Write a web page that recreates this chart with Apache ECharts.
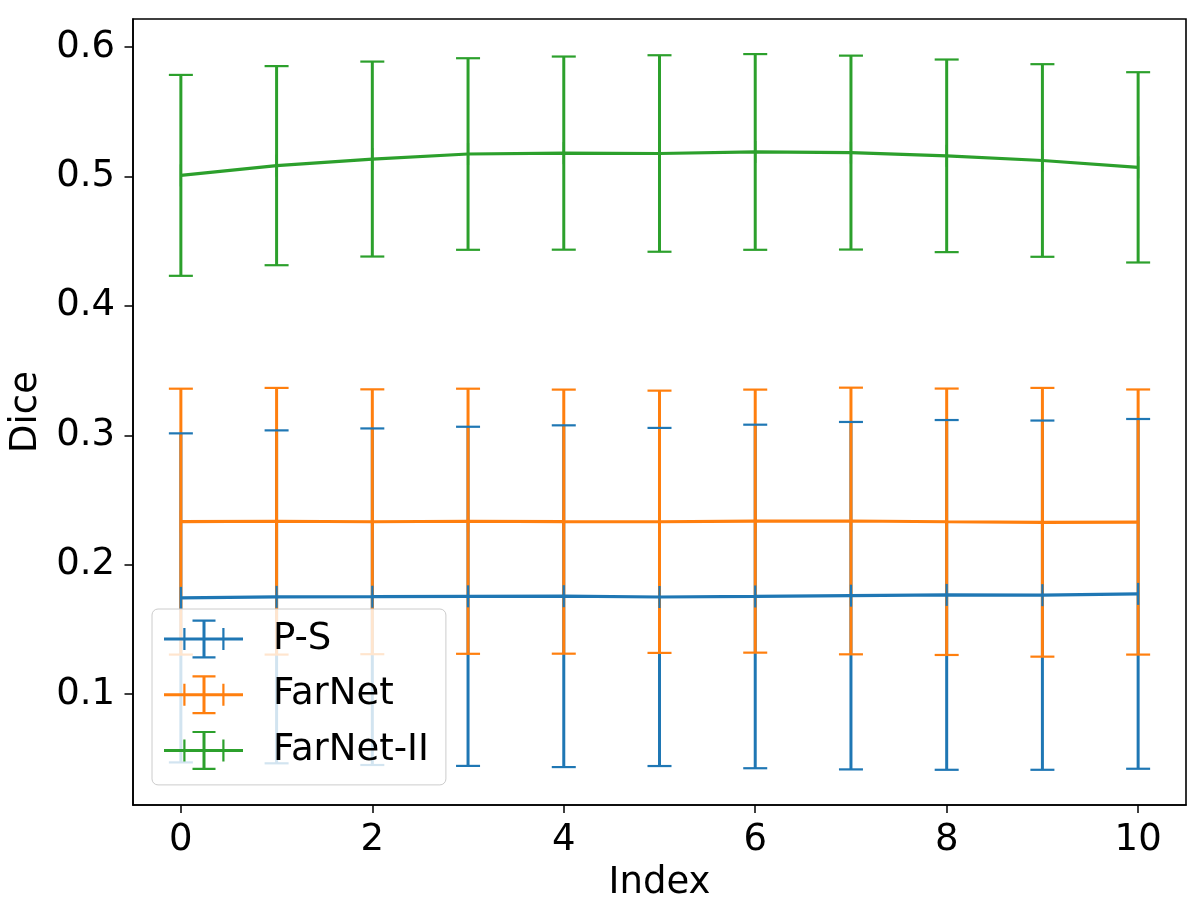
<!DOCTYPE html>
<html>
<head>
<meta charset="utf-8">
<script src="https://cdn.jsdelivr.net/npm/echarts@6/dist/echarts.min.js"></script>
<style>
html,body{margin:0;padding:0;background:#ffffff;}
#chart{width:1200px;height:907px;}
</style>
</head>
<body>
<div id="chart"></div>
<script>
// ---- data ----
const indices = [0, 1, 2, 3, 4, 5, 6, 7, 8, 9, 10];

const seriesNames = ['P-S', 'FarNet', 'FarNet-II'];

const psMean = [0.1744, 0.1752, 0.1753, 0.1756, 0.1757, 0.1751, 0.1755, 0.1761, 0.1767, 0.1765, 0.1775];
const psStd  = [0.1271, 0.1286, 0.1300, 0.1310, 0.1320, 0.1306, 0.1327, 0.1342, 0.1351, 0.1349, 0.1351];

const farMean = [0.2333, 0.2336, 0.2332, 0.2336, 0.2333, 0.2332, 0.2337, 0.2338, 0.2332, 0.2328, 0.2330];
const farStd  = [0.1027, 0.1030, 0.1023, 0.1024, 0.1020, 0.1013, 0.1016, 0.1030, 0.1029, 0.1038, 0.1024];

const far2Mean = [0.5008, 0.5083, 0.5134, 0.5173, 0.5180, 0.5177, 0.5189, 0.5184, 0.5159, 0.5123, 0.5070];
const far2Std  = [0.0776, 0.0769, 0.0753, 0.0740, 0.0746, 0.0759, 0.0756, 0.0749, 0.0744, 0.0744, 0.0735];

const xTicks = [0, 2, 4, 6, 8, 10];
const xTickLabels = ['0', '2', '4', '6', '8', '10'];
const yTicks = [0.1, 0.2, 0.3, 0.4, 0.5, 0.6];
const yTickLabels = ['0.1', '0.2', '0.3', '0.4', '0.5', '0.6'];

const xRange = [-0.5, 10.5];
const yRange = [0.0144, 0.6216];

// ---- styling ----
const colors = ['#1f77b4', '#ff7f0e', '#2ca02c'];
const FONT = 'DejaVu Sans';
const FS = 37;
const means = [psMean, farMean, far2Mean];
const stds = [psStd, farStd, far2Std];

function seriesData(k) {
  return indices.map((x, i) => [x, means[k][i], stds[k][i]]);
}

function barsRender(color) {
  return function (params, api) {
    const x = api.value(0), m = api.value(1), s = api.value(2);
    const t = api.coord([x, m + s]);
    const b = api.coord([x, m - s]);
    return {
      type: 'line',
      shape: { x1: t[0], y1: t[1], x2: b[0], y2: b[1] },
      style: { stroke: color, lineWidth: 3 }
    };
  };
}

function capsRender(color) {
  return function (params, api) {
    const x = api.value(0), m = api.value(1), s = api.value(2);
    const t = api.coord([x, m + s]);
    const b = api.coord([x, m - s]);
    const c = api.coord([x, m]);
    const hw = 12, hh = 11;
    return {
      type: 'group',
      children: [
        { type: 'line', shape: { x1: t[0] - hw, y1: t[1], x2: t[0] + hw, y2: t[1] }, style: { stroke: color, lineWidth: 2.2 } },
        { type: 'line', shape: { x1: b[0] - hw, y1: b[1], x2: b[0] + hw, y2: b[1] }, style: { stroke: color, lineWidth: 2.2 } },
        { type: 'line', shape: { x1: c[0], y1: c[1] - hh, x2: c[0], y2: c[1] + hh }, style: { stroke: color, lineWidth: 2.2 } }
      ]
    };
  };
}

// legend handle: line with x-caps and y-errorbar with caps (filled shapes)
const handleIcon = 'path://' +
  'M0 18 L79 18 L79 21 L0 21 Z ' +
  'M19.3 8.5 L21.5 8.5 L21.5 30.5 L19.3 30.5 Z ' +
  'M58.3 8.5 L60.5 8.5 L60.5 30.5 L58.3 30.5 Z ' +
  'M38.5 1 L41.5 1 L41.5 38 L38.5 38 Z ' +
  'M28.5 0 L51.5 0 L51.5 2.2 L28.5 2.2 Z ' +
  'M28.5 36.8 L51.5 36.8 L51.5 39 L28.5 39 Z';

const series = [];
// error bars first (lowest)
for (let k = 0; k < 3; k++) {
  series.push({
    type: 'custom', name: seriesNames[k] + ' bars',
    data: seriesData(k), encode: { x: 0, y: 1 },
    renderItem: barsRender(colors[k]),
    itemStyle: { color: colors[k] },
    z: 2, silent: true, clip: false
  });
}
// data lines and caps
for (let k = 0; k < 3; k++) {
  series.push({
    type: 'line', name: seriesNames[k],
    data: indices.map((x, i) => [x, means[k][i]]),
    showSymbol: false, symbol: 'none',
    lineStyle: { color: colors[k], width: 3.2 },
    itemStyle: { color: colors[k] },
    z: 3, silent: true
  });
  series.push({
    type: 'custom', name: seriesNames[k] + ' caps',
    data: seriesData(k), encode: { x: 0, y: 1 },
    renderItem: capsRender(colors[k]),
    itemStyle: { color: colors[k] },
    z: 3, silent: true, clip: false
  });
}

const chart = echarts.init(document.getElementById('chart'), null, { renderer: 'canvas' });
chart.setOption({
  animation: false,
  backgroundColor: '#ffffff',
  textStyle: { fontFamily: FONT },
  grid: {
    left: 132, right: 14, top: 19, bottom: 101.5,
    show: true, borderColor: '#000000', borderWidth: 1.6, backgroundColor: 'transparent'
  },
  xAxis: {
    type: 'value', min: xRange[0], max: xRange[1],
    splitLine: { show: false },
    axisLine: { show: true, onZero: false, lineStyle: { color: '#000', width: 1.6 } },
    axisTick: { show: true, length: 8, customValues: xTicks, lineStyle: { color: '#000', width: 1.5 } },
    axisLabel: {
      customValues: xTicks, margin: 17,
      fontSize: FS, color: '#000', fontFamily: FONT,
      formatter: function (v) { const i = xTicks.indexOf(v); return i >= 0 ? xTickLabels[i] : ''; }
    },
    name: 'Index', nameLocation: 'middle', nameGap: 60,
    nameTextStyle: { fontSize: FS, color: '#000', fontFamily: FONT }
  },
  yAxis: {
    type: 'value', min: yRange[0], max: yRange[1],
    splitLine: { show: false },
    axisLine: { show: true, onZero: false, lineStyle: { color: '#000', width: 1.6 } },
    axisTick: { show: true, length: 8.5, customValues: yTicks, lineStyle: { color: '#000', width: 1.5 } },
    axisLabel: {
      customValues: yTicks, margin: 18,
      fontSize: FS, color: '#000', fontFamily: FONT,
      formatter: function (v) {
        for (let i = 0; i < yTicks.length; i++) { if (Math.abs(yTicks[i] - v) < 1e-9) return yTickLabels[i]; }
        return '';
      }
    },
    name: 'Dice', nameLocation: 'middle', nameGap: 88,
    nameTextStyle: { fontSize: FS, color: '#000', fontFamily: FONT }
  },
  legend: {
    orient: 'vertical', left: 152, top: 609,
    data: seriesNames.map(n => ({ name: n, icon: handleIcon })),
    itemWidth: 79, itemHeight: 39, itemGap: 16.7,
    itemStyle: { borderWidth: 0 },
    selectedMode: false,
    backgroundColor: 'rgba(255,255,255,0.8)',
    borderColor: '#cccccc', borderWidth: 1, borderRadius: 6,
    padding: [10.5, 17, 15, 12],
    textStyle: { fontSize: FS, color: '#000', fontFamily: FONT, padding: [0, 0, 0, 25] }
  },
  series: series
});
</script>
</body>
</html>
